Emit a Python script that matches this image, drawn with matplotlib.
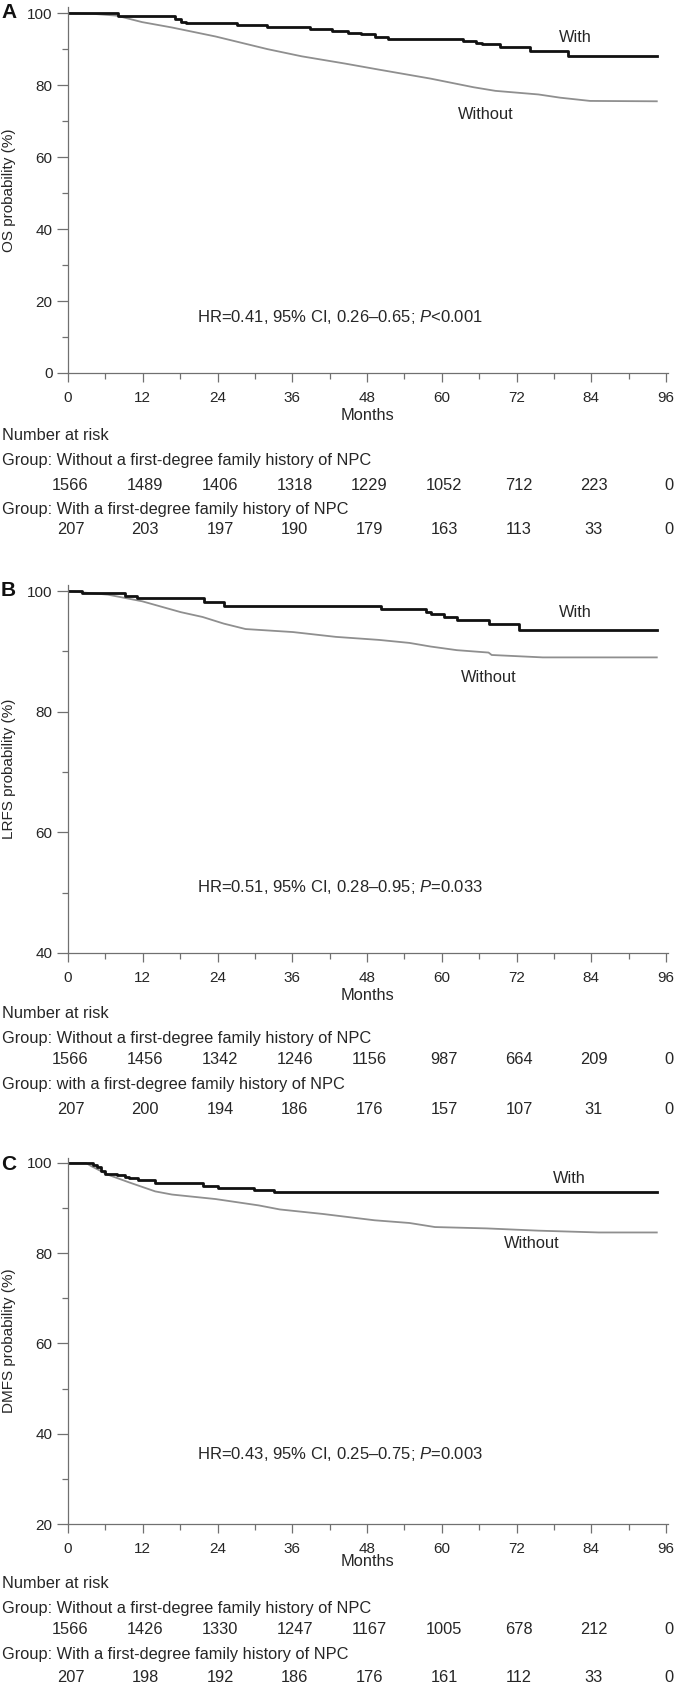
import matplotlib
matplotlib.use("Agg")
import matplotlib.pyplot as plt
from matplotlib.ticker import MultipleLocator
from matplotlib.transforms import blended_transform_factory as blend

plt.rcParams['font.family'] = ['Liberation Sans', 'DejaVu Sans']
plt.rcParams['mathtext.fontset'] = 'custom'
plt.rcParams['mathtext.rm'] = 'Liberation Sans'
plt.rcParams['mathtext.it'] = 'Liberation Sans:italic'

W, H = 675, 1686
TXT = '#262626'
AXC = '#707070'
FS = 11.8   # text size for labels / risk table

months = [0, 12, 24, 36, 48, 60, 72, 84, 96]

# A: overall survival
os_with_t = [0, 8, 17.1, 18.1, 19, 27.1, 32, 38.9, 42.3, 45, 47.1, 49.2, 51.3, 63.4, 65.5, 66.5, 69.3, 74.1, 80.3, 94.6]
os_with_v = [100, 99.3, 98.3, 97.6, 97.3, 96.7, 96.2, 95.6, 95.0, 94.5, 94.1, 93.4, 92.9, 92.3, 91.6, 91.3, 90.6, 89.5, 88.1, 88.1]
os_without_t = [0, 4, 7.8, 11.9, 16.7, 23.7, 32, 37.5, 44.4, 49.9, 58.2, 65.1, 68.6, 75.5, 79, 83.8, 94.5]
os_without_v = [100, 99.8, 99.3, 97.5, 96.0, 93.5, 90.0, 88.0, 86.0, 84.3, 81.8, 79.4, 78.4, 77.4, 76.5, 75.6, 75.5]
os_risk_without = [1566, 1489, 1406, 1318, 1229, 1052, 712, 223, 0]
os_risk_with = [207, 203, 197, 190, 179, 163, 113, 33, 0]

# B: locoregional relapse-free survival
lrfs_with_t = [0, 2.2, 9.1, 11.1, 21.9, 25, 50.3, 57.5, 58.2, 60.3, 62.4, 67.5, 72.4, 94.6]
lrfs_with_v = [100, 99.6, 99.2, 98.8, 98.2, 97.6, 97.0, 96.6, 96.2, 95.7, 95.2, 94.5, 93.6, 93.6]
lrfs_without_t = [0, 2, 6.4, 11.9, 18.1, 21.6, 25, 28.5, 36.1, 43, 49.9, 54.8, 58.2, 62.4, 67.5, 68, 76.2, 94.5]
lrfs_without_v = [100, 99.8, 99.4, 98.3, 96.5, 95.7, 94.6, 93.7, 93.2, 92.4, 91.9, 91.4, 90.8, 90.2, 89.8, 89.4, 89.0, 89.0]
lrfs_risk_without = [1566, 1456, 1342, 1246, 1156, 987, 664, 209, 0]
lrfs_risk_with = [207, 200, 194, 186, 176, 157, 107, 31, 0]

# C: distant metastasis-free survival
dmfs_with_t = [0, 4, 4.6, 5.3, 6, 7.8, 9.1, 9.8, 11.2, 14, 21.6, 24, 29.9, 33, 94.6]
dmfs_with_v = [100, 99.5, 99.0, 98.3, 97.6, 97.3, 96.9, 96.6, 96.2, 95.5, 95.0, 94.5, 94.0, 93.5, 93.5]
dmfs_without_t = [0, 2.9, 3.6, 6.4, 9.8, 14, 16.7, 23.7, 30.6, 34, 40.9, 49.2, 54.8, 58.9, 67.2, 75.5, 85.2, 94.5]
dmfs_without_v = [100, 100, 99.4, 97.4, 95.7, 93.7, 93.0, 92.0, 90.6, 89.7, 88.7, 87.3, 86.7, 85.8, 85.5, 85.0, 84.6, 84.6]
dmfs_risk_without = [1566, 1426, 1330, 1247, 1167, 1005, 678, 212, 0]
dmfs_risk_with = [207, 198, 192, 186, 176, 161, 112, 33, 0]

letters = ['A', 'B', 'C']
ylabels = ['OS probability (%)', 'LRFS probability (%)', 'DMFS probability (%)']
hr_texts = ['HR=0.41, 95% CI, 0.26\u20130.65; $P$<0.001',
            'HR=0.51, 95% CI, 0.28\u20130.95; $P$=0.033',
            'HR=0.43, 95% CI, 0.25\u20130.75; $P$=0.003']
group_without = 'Group: Without a first-degree family history of NPC'
group_with = ['Group: With a first-degree family history of NPC',
              'Group: with a first-degree family history of NPC',
              'Group: With a first-degree family history of NPC']

# layout in pixels: axes top/bottom, y-limits, label spots
panels = [
    dict(top=7, bottom=373, ylim=(0, 101.7), ymaj=range(0, 101, 20), ymin=range(10, 100, 20),
         hr=(20.7, 15.6), with_lbl=(81.4, 93.3), without_lbl=(67.1, 71.9),
         rows=(416, 436, 461, 485, 509, 529)),
    dict(top=585, bottom=953, ylim=(40, 101), ymaj=range(40, 101, 20), ymin=range(50, 100, 20),
         hr=(20.7, 50.9), with_lbl=(81.4, 96.4), without_lbl=(67.6, 85.7),
         rows=(995, 1014, 1039, 1060, 1085, 1109)),
    dict(top=1158, bottom=1524, ylim=(20, 101.1), ymaj=range(20, 101, 20), ymin=range(30, 100, 20),
         hr=(20.7, 35.6), with_lbl=(80.4, 96.6), without_lbl=(74.4, 82.2),
         rows=(1562, 1584, 1609, 1630, 1654, 1678)),
]
curves = [
    (os_with_t, os_with_v, os_without_t, os_without_v, os_risk_without, os_risk_with),
    (lrfs_with_t, lrfs_with_v, lrfs_without_t, lrfs_without_v, lrfs_risk_without, lrfs_risk_with),
    (dmfs_with_t, dmfs_with_v, dmfs_without_t, dmfs_without_v, dmfs_risk_without, dmfs_risk_with),
]

fig = plt.figure(figsize=(W / 100, H / 100), dpi=100)

for i, p in enumerate(panels):
    wt, wv, nt, nv, r_without, r_with = curves[i]
    ax = fig.add_axes([68 / W, 1 - p['bottom'] / H, 600 / W, (p['bottom'] - p['top']) / H])
    ax.plot(nt, nv, color='#8f8f8f', lw=1.3)
    ax.plot(wt, wv, color='#111111', lw=2.0, drawstyle='steps-post')

    ax.set_xlim(0, 96.3)
    ax.set_ylim(*p['ylim'])
    ax.set_xticks(months)
    ax.xaxis.set_minor_locator(MultipleLocator(6))
    ax.set_yticks(list(p['ymaj']))
    ax.set_yticks(list(p['ymin']), minor=True)
    for s in ['top', 'right']:
        ax.spines[s].set_visible(False)
    for s in ['left', 'bottom']:
        ax.spines[s].set_color(AXC)
        ax.spines[s].set_linewidth(0.9)
    ax.tick_params(axis='x', which='major', length=6.5, width=0.9, pad=6.5, color=AXC,
                   labelsize=11, labelcolor=TXT)
    ax.tick_params(axis='x', which='minor', length=4, width=0.9, color=AXC)
    ax.tick_params(axis='y', which='major', length=8, width=0.9, pad=3, color=AXC,
                   labelsize=11, labelcolor=TXT)
    ax.tick_params(axis='y', which='minor', length=4.3, width=0.9, color=AXC)

    ax.set_ylabel(ylabels[i], fontsize=11, color=TXT, va='center')
    ax.yaxis.set_label_coords(9 / W, 0.5, transform=blend(fig.transFigure, ax.transAxes))
    ax.set_xlabel('Months', fontsize=FS, color=TXT, va='center')
    ax.xaxis.set_label_coords(0.5, 1 - p['rows'][0] / H, transform=blend(ax.transAxes, fig.transFigure))

    ax.text(p['hr'][0], p['hr'][1], hr_texts[i], fontsize=12, color=TXT, va='center', ha='left')
    ax.text(*p['with_lbl'], 'With', fontsize=FS, color=TXT, ha='center', va='center')
    ax.text(*p['without_lbl'], 'Without', fontsize=FS, color=TXT, ha='center', va='center')

    # panel letter, aligned with the 100 tick
    fig.text(1 / W, 1 - (p['top'] + 6) / H, letters[i], fontsize=15, fontweight='bold',
             color='#111111', ha='left', va='center')

    # number at risk table
    rows = p['rows']
    fig.text(2 / W, 1 - rows[1] / H, 'Number at risk', fontsize=FS, color=TXT, va='center')
    fig.text(2 / W, 1 - rows[2] / H, group_without, fontsize=FS, color=TXT, va='center')
    fig.text(2 / W, 1 - rows[4] / H, group_with[i], fontsize=FS, color=TXT, va='center')
    tr = blend(ax.transData, fig.transFigure)
    for m, a, b in zip(months, r_without, r_with):
        ax.text(m + 0.4, 1 - rows[3] / H, str(a), transform=tr, fontsize=FS, color=TXT,
                ha='center', va='center', clip_on=False)
        ax.text(m + 0.4, 1 - rows[5] / H, str(b), transform=tr, fontsize=FS, color=TXT,
                ha='center', va='center', clip_on=False)

fig.savefig('out.png', dpi=100)
